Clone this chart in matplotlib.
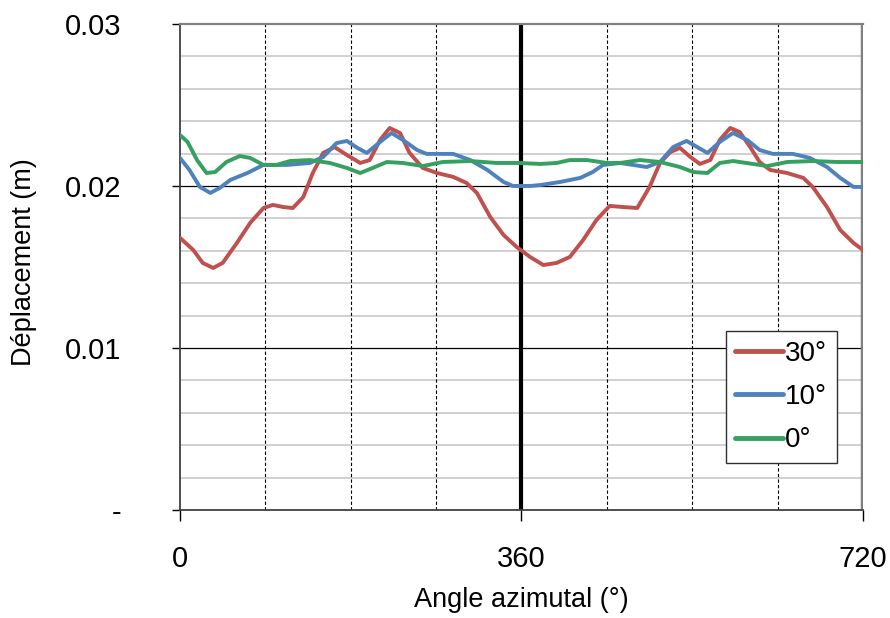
import numpy as np
import matplotlib.pyplot as plt

plt.rcParams['font.family'] = ['Liberation Sans', 'DejaVu Sans']

# 30 deg series
x_30 = [0, 14, 24, 35, 45, 60, 74, 88, 98, 109, 119, 130, 140, 151, 163, 176, 190, 200,
        211, 221, 232, 242, 256, 271, 288, 302, 313, 327, 341, 355, 369, 383, 397, 411,
        425, 439, 453, 467, 482, 495, 506, 517, 527, 538, 548, 559, 569, 580, 590, 601,
        611, 622, 640, 657, 667, 682, 696, 710, 720]
y_30 = [0.0168, 0.01605, 0.01525, 0.01494, 0.01525, 0.01648, 0.01772, 0.01864, 0.01883,
        0.0187, 0.01864, 0.01932, 0.0208, 0.02204, 0.0224, 0.02191, 0.02142, 0.0216,
        0.02284, 0.02358, 0.02327, 0.02204, 0.02111, 0.0208, 0.02056, 0.02019, 0.01957,
        0.01809, 0.01698, 0.01623, 0.01562, 0.01512, 0.01525, 0.01562, 0.01667, 0.0179,
        0.01877, 0.0187, 0.01864, 0.01994, 0.02142, 0.0221, 0.02235, 0.02179, 0.02136,
        0.0216, 0.02284, 0.02358, 0.02333, 0.02241, 0.02148, 0.02099, 0.0208, 0.0205,
        0.01994, 0.0187, 0.01728, 0.01648, 0.01605]

# 10 deg series
x_10 = [0, 10, 21, 32, 42, 53, 71, 88, 113, 137, 151, 165, 176, 187, 197, 211, 223, 235,
        250, 260, 288, 306, 324, 341, 351, 369, 380, 401, 422, 435, 446, 464, 492, 506,
        520, 534, 545, 556, 569, 583, 598, 611, 625, 646, 664, 682, 696, 710, 720]
y_10 = [0.02173, 0.02099, 0.01994, 0.01957, 0.01988, 0.02037, 0.0208, 0.0213, 0.0213,
        0.02142, 0.02179, 0.02265, 0.02278, 0.02235, 0.02204, 0.02272, 0.02327, 0.02284,
        0.02222, 0.02198, 0.02198, 0.0216, 0.02099, 0.02025, 0.02, 0.02, 0.02006, 0.02025,
        0.0205, 0.02086, 0.0213, 0.02142, 0.02117, 0.02148, 0.02241, 0.02278, 0.02241,
        0.02204, 0.02272, 0.02327, 0.02284, 0.02222, 0.02198, 0.02198, 0.02173, 0.02117,
        0.0205, 0.01994, 0.01994]

# 0 deg series
x_0 = [0, 8, 18, 28, 37, 49, 63, 74, 88, 102, 116, 137, 158, 176, 190, 203, 218, 235,
       256, 277, 306, 334, 358, 380, 397, 411, 429, 450, 464, 485, 506, 527, 541, 556,
       569, 583, 604, 619, 640, 667, 693, 720]
y_0 = [0.02315, 0.02272, 0.0216, 0.0208, 0.02086, 0.02148, 0.02185, 0.02173, 0.0213,
       0.0213, 0.02154, 0.0216, 0.02142, 0.02111, 0.0208, 0.02111, 0.02148, 0.02142,
       0.02123, 0.02148, 0.02154, 0.02142, 0.02142, 0.02136, 0.02142, 0.0216, 0.0216,
       0.02142, 0.02142, 0.0216, 0.02148, 0.02117, 0.02086, 0.0208, 0.02142, 0.02154,
       0.02136, 0.02123, 0.02148, 0.02154, 0.02148, 0.02148]

series_labels = ['30°', '10°', '0°']
series_colors = ['#C0504D', '#4F81BD', '#35A060']

x_ticks = [0, 360, 720]
y_ticks = [0, 0.01, 0.02, 0.03]
y_ticklabels = ['-', '0.01', '0.02', '0.03']


fig = plt.figure(figsize=(8.9, 6.18), dpi=100)
ax = fig.add_axes([0.2022, 0.1748, 0.9697 - 0.2022, 0.9612 - 0.1748])

# grid
for v in np.arange(0.002, 0.03, 0.002):
    if abs(v * 100 - round(v * 100)) > 1e-6:
        ax.axhline(v, color='#C8C8C8', lw=1.2, zorder=0)
for v in [0.01, 0.02]:
    ax.axhline(v, color='black', lw=0.9, zorder=0)
for v in [90, 180, 270, 450, 540, 630]:
    ax.axvline(v, color='black', lw=0.8, ls=(0, (3, 2)), zorder=0)
ax.axvline(360, color='black', lw=3, zorder=1)
ax.axvline(719, color='#808080', lw=2.5, zorder=1)
ax.axvline(720.5, color='black', lw=1.2, zorder=1)

for xs, ys, lab, c in zip([x_30, x_10, x_0], [y_30, y_10, y_0], series_labels, series_colors):
    ax.plot(xs, ys, color=c, lw=2.8, label=lab, zorder=3, solid_joinstyle='round')

ax.set_xlim(0, 720)
ax.set_ylim(0, 0.03)
ax.set_xticks(x_ticks)
ax.set_xticklabels([str(t) for t in x_ticks])
ax.set_yticks(y_ticks)
ax.set_yticklabels(y_ticklabels)
ax.tick_params(axis='y', length=6, width=1, pad=36, labelsize=21)
ax.tick_params(axis='x', length=8, width=1, pad=17, labelsize=21)

for s in ['left', 'bottom']:
    ax.spines[s].set_color('#404040')
    ax.spines[s].set_linewidth(1.3)
ax.spines['top'].set_color('#808080')
ax.spines['top'].set_linewidth(1.6)
ax.spines['right'].set_visible(False)

ax.set_xlabel('Angle azimutal (°)', fontsize=19.5, va='top')
ax.xaxis.set_label_coords(0.5, -0.158)
ax.set_ylabel('Déplacement (m)', fontsize=19.5)
ax.yaxis.set_label_coords(-0.209, 0.51)

leg = ax.legend(loc='upper right', bbox_to_anchor=(0.962, 0.368), fontsize=20,
                handlelength=1.7, handletextpad=0.1, labelspacing=0.62,
                borderpad=0.35, borderaxespad=0, fancybox=False, framealpha=1)
leg.get_frame().set_edgecolor('#303030')
leg.get_frame().set_linewidth(1.0)
for h in leg.get_lines():
    h.set_linewidth(3.5)
    h.set_solid_capstyle('round')

fig.savefig('out.png', dpi=100)
